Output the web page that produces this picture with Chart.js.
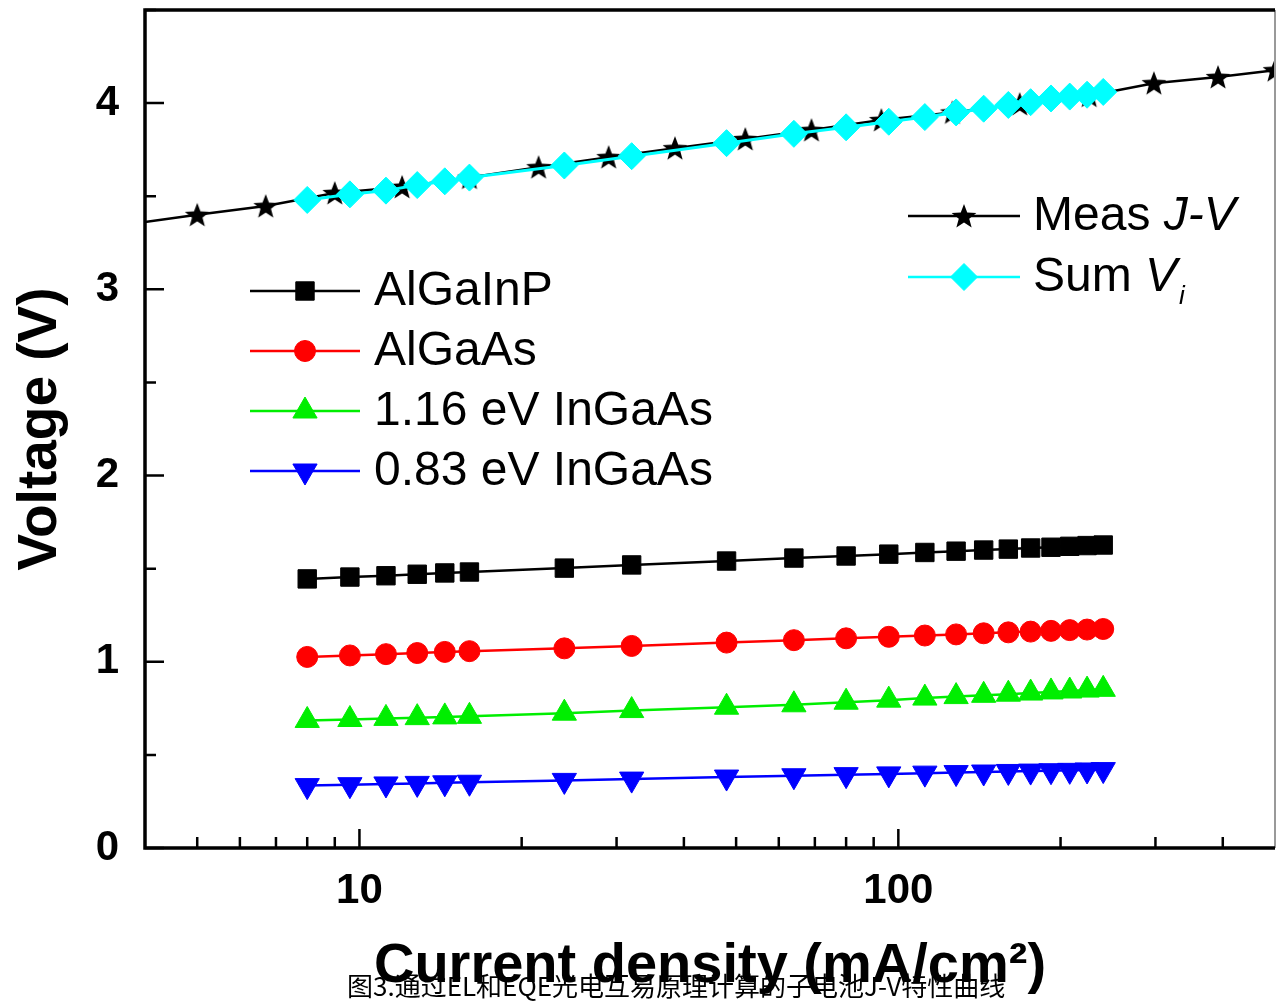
<!DOCTYPE html>
<html>
<head>
<meta charset="utf-8">
<script src="https://cdn.jsdelivr.net/npm/chart.js@4.4.1/dist/chart.umd.min.js"></script>
<style>
  html, body { margin: 0; background: #fff; overflow: hidden; }
  #wrap { position: relative; width: 1277px; height: 1003px; }
  #chart { display: block; }
  #caption {
    position: absolute; left: 347px; top: 970px;
    font-family: "Noto Sans CJK SC", sans-serif; font-size: 26px;
    color: #000; white-space: nowrap; line-height: 30px;
  }
</style>
</head>
<body>
<div id="wrap">
  <canvas id="chart" width="1277" height="1003"></canvas>
  <div id="caption">图3.通过EL和EQE光电互易原理计算的子电池J-V特性曲线</div>
</div>
<script>
// current density (mA/cm2) of the subcell points
const subJ = [8, 9.6, 11.2, 12.8, 14.4, 16, 24, 32, 48, 64, 80, 96, 112, 128, 144, 160, 176, 192, 208, 224, 240];
const vAlGaInP = [1.445, 1.455, 1.462, 1.470, 1.477, 1.482, 1.503, 1.520, 1.541, 1.557, 1.568, 1.578, 1.587, 1.594, 1.600, 1.605, 1.611, 1.615, 1.620, 1.624, 1.627];
const vAlGaAs = [1.026, 1.034, 1.041, 1.047, 1.053, 1.057, 1.072, 1.085, 1.103, 1.116, 1.126, 1.134, 1.141, 1.147, 1.153, 1.158, 1.162, 1.166, 1.170, 1.173, 1.176];
const vInGaAs116 = [0.685, 0.690, 0.696, 0.700, 0.704, 0.707, 0.724, 0.738, 0.756, 0.769, 0.783, 0.794, 0.805, 0.813, 0.820, 0.826, 0.832, 0.838, 0.843, 0.848, 0.852];
const vInGaAs083 = [0.335, 0.340, 0.344, 0.347, 0.350, 0.353, 0.363, 0.370, 0.381, 0.388, 0.394, 0.398, 0.402, 0.405, 0.408, 0.411, 0.413, 0.415, 0.417, 0.419, 0.421];
const vSum = [3.48, 3.51, 3.53, 3.56, 3.58, 3.60, 3.665, 3.715, 3.785, 3.835, 3.87, 3.90, 3.925, 3.95, 3.97, 3.99, 4.005, 4.025, 4.035, 4.045, 4.06];

// measured J-V curve
const measJ = [3.75, 5, 6.7, 9, 12, 16, 21.5, 29, 38.5, 52, 69, 93, 126, 168, 226, 298, 392, 500];
const measV = [3.35, 3.40, 3.447, 3.517, 3.55, 3.60, 3.656, 3.71, 3.758, 3.807, 3.855, 3.909, 3.95, 3.995, 4.04, 4.107, 4.14, 4.177];

const xLabels = [10, 100];
const yLabels = [0, 1, 2, 3, 4];
const xMinor = [5, 6, 7, 8, 9, 20, 30, 40, 50, 60, 70, 80, 90, 200, 300, 400];
const yMinor = [0.5, 1.5, 2.5, 3.5, 4.5];

const pts = (xs, ys) => xs.map((x, i) => ({ x: x, y: ys[i] }));

// filled star marker
const starImg = (() => {
  const c = document.createElement("canvas");
  c.width = 28; c.height = 28;
  const g = c.getContext("2d");
  g.fillStyle = "#000";
  g.beginPath();
  for (let i = 0; i < 10; i++) {
    const r = i % 2 ? 5.5 : 13;
    const a = -Math.PI / 2 + i * Math.PI / 5;
    g.lineTo(14 + r * Math.cos(a), 15 + r * Math.sin(a));
  }
  g.closePath();
  g.fill();
  return c;
})();

function series(label, xs, ys, color, style, radius, rot, order) {
  return {
    label: label,
    data: pts(xs, ys),
    borderColor: color,
    backgroundColor: color,
    borderWidth: 2.5,
    pointStyle: style,
    pointRadius: radius,
    pointHoverRadius: radius,
    pointRotation: rot || 0,
    pointBackgroundColor: color,
    pointBorderColor: color,
    pointBorderWidth: 1,
    order: order
  };
}

const dsMeas = series("Meas J-V", measJ, measV, "#000000", starImg, 13, 0, 3);
const dsSum = series("Sum Vi", subJ, vSum, "#00ffff", "rectRot", 13.5, 0, 1);
dsSum.borderWidth = 3;
const dsP = series("AlGaInP", subJ, vAlGaInP, "#000000", "rect", 13, 0, 2);
const dsA = series("AlGaAs", subJ, vAlGaAs, "#ff0000", "circle", 10.5, 0, 2);
const dsG = series("1.16 eV InGaAs", subJ, vInGaAs116, "#00ee00", "triangle", 14, 0, 2);
const dsB = series("0.83 eV InGaAs", subJ, vInGaAs083, "#0000ff", "triangle", 14, 180, 2);

const FONT = '"Liberation Sans", Arial, sans-serif';

const frame = {
  id: "frame",
  afterDraw(chart) {
    const ctx = chart.ctx;
    const a = chart.chartArea;
    const xs = chart.scales.x, ys = chart.scales.y;
    ctx.save();
    ctx.strokeStyle = "#000";
    ctx.lineWidth = 2.5;
    // inward ticks
    ctx.beginPath();
    yLabels.forEach(v => { const p = ys.getPixelForValue(v); ctx.moveTo(a.left, p); ctx.lineTo(a.left + 19, p); });
    yMinor.forEach(v => { const p = ys.getPixelForValue(v); ctx.moveTo(a.left, p); ctx.lineTo(a.left + 11, p); });
    xLabels.forEach(v => { const p = xs.getPixelForValue(v); ctx.moveTo(p, a.bottom); ctx.lineTo(p, a.bottom - 19); });
    xMinor.forEach(v => { const p = xs.getPixelForValue(v); ctx.moveTo(p, a.bottom); ctx.lineTo(p, a.bottom - 11); });
    ctx.stroke();
    // right border
    ctx.strokeStyle = "#999";
    ctx.lineWidth = 2;
    ctx.beginPath();
    ctx.moveTo(a.right, a.top); ctx.lineTo(a.right, a.bottom);
    ctx.stroke();
    // left, bottom, top
    ctx.strokeStyle = "#000";
    ctx.lineWidth = 3.5;
    ctx.beginPath();
    ctx.moveTo(a.right, a.top); ctx.lineTo(a.left, a.top);
    ctx.lineTo(a.left, a.bottom); ctx.lineTo(a.right, a.bottom);
    ctx.stroke();

    // legends
    const entry = (ds, x0, x1, y) => {
      ctx.strokeStyle = ds.borderColor;
      ctx.lineWidth = 2.5;
      ctx.beginPath(); ctx.moveTo(x0, y); ctx.lineTo(x1, y); ctx.stroke();
      ctx.fillStyle = ds.pointBackgroundColor;
      ctx.strokeStyle = ds.pointBorderColor;
      ctx.lineWidth = 1;
      Chart.helpers.drawPoint(ctx, {
        pointStyle: ds.pointStyle, radius: ds.pointRadius,
        rotation: ds.pointRotation, borderWidth: 1
      }, (x0 + x1) / 2, y);
    };
    ctx.textBaseline = "middle";
    ctx.textAlign = "left";
    [dsP, dsA, dsG, dsB].forEach((ds, i) => {
      const y = 291 + i * 60;
      entry(ds, 250, 360, y);
      ctx.fillStyle = "#000";
      ctx.font = "48px " + FONT;
      ctx.fillText(ds.label, 374, y + 1);
    });
    entry(dsMeas, 908, 1020, 216);
    entry(dsSum, 908, 1020, 277);
    ctx.fillStyle = "#000";
    ctx.font = "48px " + FONT;
    ctx.fillText("Meas ", 1033, 217);
    let w = ctx.measureText("Meas ").width;
    ctx.font = "italic 48px " + FONT;
    ctx.fillText("J-V", 1033 + w, 217);
    ctx.font = "48px " + FONT;
    ctx.fillText("Sum ", 1033, 278);
    w = ctx.measureText("Sum ").width;
    ctx.font = "italic 48px " + FONT;
    ctx.fillText("V", 1033 + w, 278);
    const wv = ctx.measureText("V").width;
    ctx.font = "italic 26px " + FONT;
    ctx.fillText("i", 1033 + w + wv + 2, 297);
    ctx.restore();
  }
};

new Chart(document.getElementById("chart"), {
  type: "line",
  data: { datasets: [dsSum, dsMeas, dsP, dsA, dsG, dsB] },
  options: {
    responsive: false,
    animation: false,
    layout: { autoPadding: false, padding: { top: 10, right: 2, left: 0, bottom: 0 } },
    plugins: { legend: { display: false }, tooltip: { enabled: false } },
    scales: {
      x: {
        type: "logarithmic",
        min: 4,
        max: 500,
        grid: { display: false },
        border: { display: false },
        afterBuildTicks: s => { s.ticks = xLabels.map(v => ({ value: v })); },
        afterFit: s => { s.height = 155; s.paddingLeft = 0; s.paddingRight = 0; },
        ticks: {
          padding: 10,
          color: "#000",
          maxRotation: 0,
          autoSkip: false,
          font: { family: FONT, size: 42, weight: "bold" },
          callback: v => String(v)
        },
        title: {
          display: true,
          text: "Current density (mA/cm²)",
          color: "#000",
          padding: { top: 0, bottom: 3 },
          font: { family: FONT, size: 56, weight: "bold" }
        }
      },
      y: {
        min: 0,
        max: 4.5,
        grid: { display: false },
        border: { display: false },
        afterBuildTicks: s => { s.ticks = yLabels.map(v => ({ value: v })); },
        afterFit: s => { s.width = 145; s.paddingTop = 0; s.paddingBottom = 0; },
        ticks: {
          padding: 18,
          color: "#000",
          font: { family: FONT, size: 42, weight: "bold" },
          callback: v => String(v)
        },
        title: {
          display: true,
          text: "Voltage (V)",
          color: "#000",
          padding: { top: 8, bottom: 0 },
          font: { family: FONT, size: 55, weight: "bold" }
        }
      }
    }
  },
  plugins: [frame]
});
</script>
</body>
</html>
